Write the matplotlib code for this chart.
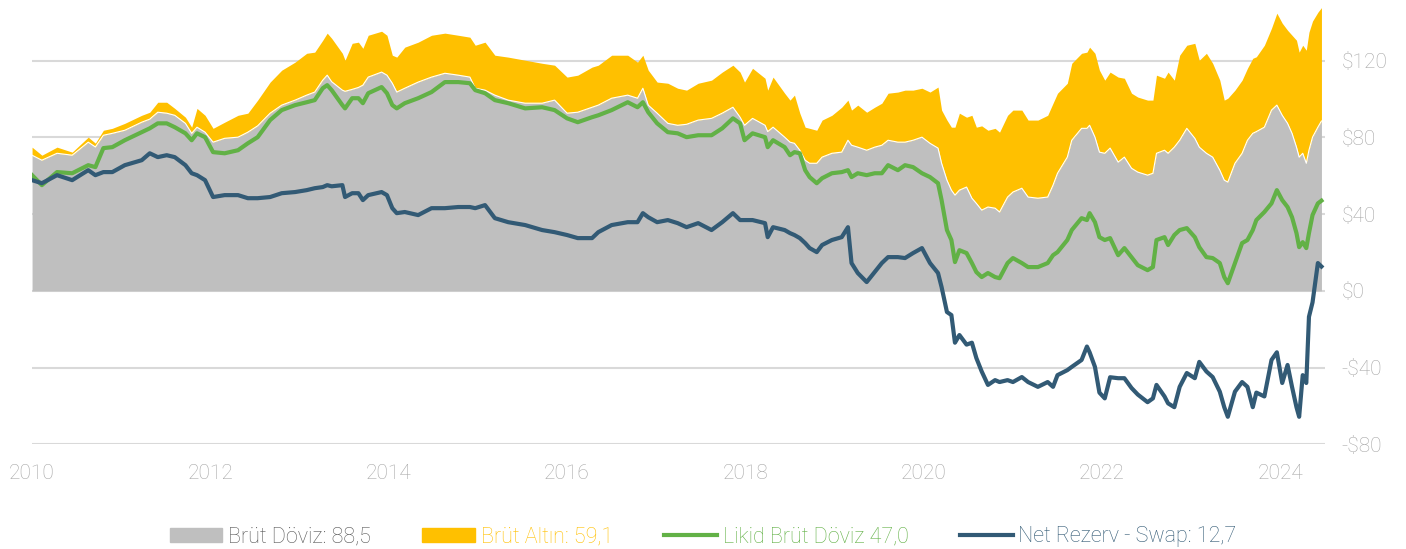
import matplotlib
matplotlib.use("Agg")
import matplotlib.pyplot as plt
from matplotlib.patches import Patch
from matplotlib.lines import Line2D

plt.rcParams['font.family'] = ['Roboto', 'DejaVu Sans']

# decimal years
tarih = [2010.00, 2010.11, 2010.28, 2010.45, 2010.63, 2010.71, 2010.80, 2010.90, 2011.04, 2011.23,
         2011.32, 2011.41, 2011.51, 2011.60, 2011.72, 2011.79, 2011.85, 2011.94, 2012.03, 2012.16,
         2012.31, 2012.42, 2012.53, 2012.67, 2012.80, 2012.95, 2013.08, 2013.17, 2013.26, 2013.31,
         2013.36, 2013.48, 2013.51, 2013.59, 2013.66, 2013.71, 2013.77, 2013.92, 2013.98, 2014.04,
         2014.09, 2014.18, 2014.33, 2014.48, 2014.63, 2014.78, 2014.91, 2014.97, 2015.08, 2015.19,
         2015.34, 2015.53, 2015.72, 2015.86, 2016.00, 2016.12, 2016.28, 2016.35, 2016.50, 2016.68,
         2016.79, 2016.85, 2016.91, 2017.01, 2017.13, 2017.24, 2017.34, 2017.47, 2017.62, 2017.74,
         2017.86, 2017.94, 2017.99, 2018.08, 2018.22, 2018.25, 2018.31, 2018.44, 2018.50, 2018.55,
         2018.61, 2018.67, 2018.72, 2018.80, 2018.86, 2018.97, 2019.08, 2019.15, 2019.19, 2019.26,
         2019.36, 2019.45, 2019.53, 2019.60, 2019.71, 2019.79, 2019.88, 2019.98, 2020.07, 2020.16,
         2020.20, 2020.26, 2020.31, 2020.35, 2020.40, 2020.48, 2020.54, 2020.59, 2020.65, 2020.72,
         2020.80, 2020.85, 2020.94, 2021.00, 2021.10, 2021.17, 2021.28, 2021.39, 2021.45, 2021.50,
         2021.61, 2021.66, 2021.77, 2021.83, 2021.86, 2021.92, 2021.97, 2022.03, 2022.09, 2022.18,
         2022.25, 2022.33, 2022.40, 2022.51, 2022.57, 2022.61, 2022.70, 2022.74, 2022.81, 2022.87,
         2022.95, 2023.04, 2023.09, 2023.17, 2023.24, 2023.32, 2023.37, 2023.41, 2023.49, 2023.57,
         2023.63, 2023.69, 2023.73, 2023.82, 2023.90, 2023.96, 2024.02, 2024.08, 2024.13, 2024.18,
         2024.21, 2024.25, 2024.29, 2024.32, 2024.36, 2024.42, 2024.46]

brut_doviz = [70.7, 68.1, 71.7, 70.7, 77.5, 75.0, 81.1, 82.1, 83.7, 87.9,
              89.5, 93.1, 92.6, 91.5, 87.3, 82.1, 85.3, 82.7, 77.5, 79.5,
              80.1, 82.7, 86.0, 92.6, 96.8, 99.4, 102.0, 103.6, 109.8, 112.4,
              109.0, 104.6, 104.0, 105.0, 106.0, 107.2, 111.4, 114.0, 112.4, 108.2,
              103.6, 105.6, 108.8, 111.4, 113.4, 112.4, 111.4, 105.6, 104.6, 102.0,
              99.4, 97.8, 97.8, 99.4, 92.6, 93.1, 95.7, 96.8, 100.4, 102.0,
              100.4, 105.6, 96.8, 92.6, 87.3, 86.3, 86.8, 89.0, 89.9, 92.6,
              95.7, 90.5, 86.3, 89.9, 86.3, 83.0, 85.3, 80.1, 77.5, 76.9,
              73.3, 68.1, 66.5, 66.5, 69.7, 71.7, 72.3, 78.5, 75.9, 74.9,
              73.3, 74.9, 75.9, 78.5, 77.5, 77.5, 78.5, 80.1, 76.9, 74.4,
              66.5, 57.7, 52.5, 49.9, 52.5, 54.1, 48.3, 45.6, 42.1, 43.7,
              43.1, 41.1, 48.9, 51.5, 53.5, 48.9, 48.3, 48.9, 55.1, 61.3,
              69.7, 78.5, 84.7, 84.7, 86.3, 80.1, 72.3, 71.7, 74.4, 67.1,
              69.7, 63.9, 61.9, 60.3, 61.3, 71.7, 73.3, 71.7, 74.9, 78.5,
              84.7, 79.5, 74.9, 71.7, 69.7, 62.9, 57.7, 56.7, 66.5, 71.7,
              78.5, 82.1, 83.0, 85.3, 94.2, 96.8, 91.5, 87.3, 82.1, 74.9,
              69.7, 71.7, 66.5, 73.3, 80.1, 85.3, 88.5]

brut_altin = [4.2, 2.6, 3.2, 1.6, 2.6, 2.0, 2.6, 2.6, 3.6, 3.6,
              3.6, 5.2, 5.7, 3.6, 3.2, 3.2, 9.8, 8.8, 7.2, 8.4,
              11.4, 9.9, 13.4, 16.2, 18.2, 19.8, 21.8, 20.8, 20.8, 21.9,
              22.6, 19.2, 16.2, 24.0, 23.6, 19.2, 21.8, 21.3, 20.8, 14.6,
              18.2, 21.4, 20.8, 21.8, 20.9, 20.8, 20.8, 22.4, 25.0, 20.8,
              22.4, 22.4, 20.8, 18.2, 18.8, 19.3, 20.9, 20.8, 22.4, 20.8,
              18.8, 17.2, 18.2, 16.2, 20.9, 19.3, 17.8, 19.2, 19.9, 21.4,
              21.9, 23.5, 22.5, 26.1, 24.5, 21.6, 26.1, 22.9, 21.9, 25.1,
              19.3, 17.2, 18.2, 17.2, 19.3, 19.8, 23.4, 20.9, 18.3, 21.9,
              19.8, 20.8, 21.9, 24.5, 26.1, 27.1, 26.1, 25.5, 26.7, 31.8,
              27.7, 31.3, 32.8, 35.4, 40.1, 36.4, 43.2, 39.7, 43.9, 40.0,
              41.6, 41.6, 42.6, 42.7, 40.7, 40.1, 40.7, 42.6, 42.7, 41.7,
              38.5, 40.1, 39.1, 39.7, 40.7, 43.7, 42.7, 38.1, 39.6, 44.3,
              41.1, 39.1, 39.1, 39.1, 38.1, 40.7, 37.5, 42.3, 34.9, 44.3,
              43.3, 49.5, 45.3, 52.1, 48.9, 46.9, 41.7, 43.7, 38.1, 38.1,
              37.5, 39.1, 39.0, 42.7, 42.7, 47.9, 48.0, 48.5, 51.1, 55.7,
              54.7, 56.3, 58.9, 61.5, 60.5, 59.9, 59.1]

likid_doviz = [60.3, 55.1, 61.9, 61.3, 65.5, 64.5, 74.4, 74.9, 78.5, 82.7,
               84.7, 87.3, 87.3, 85.3, 82.1, 78.5, 82.1, 80.1, 72.3, 71.7,
               73.3, 76.9, 80.1, 89.0, 94.2, 96.8, 98.3, 99.4, 105.6, 107.2,
               104.6, 96.8, 95.1, 100.4, 100.4, 97.8, 103.0, 106.2, 103.0, 96.8,
               95.1, 97.8, 100.4, 103.6, 108.8, 108.8, 108.2, 104.6, 103.0, 99.4,
               97.8, 95.1, 95.7, 94.2, 89.9, 87.9, 90.5, 91.5, 94.2, 98.3,
               95.7, 98.3, 93.1, 87.3, 82.7, 82.1, 80.1, 81.1, 81.1, 84.7,
               89.9, 87.3, 78.5, 82.1, 80.1, 74.9, 78.5, 74.9, 70.7, 72.3,
               71.7, 62.9, 59.3, 56.1, 58.7, 61.3, 61.9, 62.9, 59.3, 61.3,
               60.3, 61.3, 61.3, 65.5, 62.9, 65.5, 64.5, 61.3, 59.3, 56.1,
               47.3, 31.7, 26.5, 15.0, 21.2, 19.7, 14.5, 9.8, 7.2, 9.3,
               7.2, 6.6, 14.5, 17.1, 14.5, 12.4, 12.4, 14.5, 18.6, 20.2,
               26.5, 31.7, 37.9, 36.9, 40.5, 35.8, 28.0, 26.5, 27.5, 18.6,
               22.3, 17.6, 13.4, 10.8, 12.4, 26.5, 28.0, 23.9, 29.1, 31.7,
               32.7, 28.0, 22.8, 17.6, 17.1, 14.5, 7.2, 4.0, 14.5, 24.9,
               26.5, 31.7, 36.9, 41.1, 45.6, 52.5, 47.3, 43.7, 38.4, 30.1,
               22.8, 25.4, 22.3, 30.1, 39.5, 45.6, 47.0]

net_rezerv_swap = [57.7, 56.1, 60.3, 57.7, 62.9, 60.3, 61.9, 61.9, 65.5, 68.1,
                   71.7, 69.7, 70.7, 69.7, 65.5, 61.3, 60.3, 57.7, 48.9, 49.9,
                   49.9, 48.3, 48.3, 48.9, 50.9, 51.5, 52.5, 53.5, 54.1, 55.1,
                   54.5, 55.1, 48.9, 50.9, 50.9, 47.3, 49.9, 51.5, 49.9, 43.1,
                   40.5, 41.1, 39.5, 43.1, 43.1, 43.7, 43.7, 43.1, 44.7, 37.9,
                   35.8, 34.3, 31.7, 30.6, 29.1, 27.5, 27.5, 30.6, 34.3, 35.8,
                   35.8, 40.5, 38.4, 35.8, 36.9, 35.3, 33.2, 35.3, 31.7, 35.8,
                   40.5, 36.9, 36.9, 36.9, 35.3, 28.0, 33.2, 31.7, 30.1, 29.1,
                   27.5, 24.9, 22.3, 20.2, 23.9, 26.5, 28.0, 33.2, 14.5, 9.3,
                   4.6, 9.8, 14.5, 17.6, 17.6, 17.1, 19.7, 22.3, 14.5, 9.3,
                   2.0, -11.0, -12.6, -27.0, -23.0, -28.0, -27.0, -35.0, -42.0, -49.0,
                   -46.5, -47.5, -46.5, -47.5, -44.9, -47.5, -50.0, -47.5, -50.0, -43.9,
                   -41.3, -39.6, -36.0, -29.0, -32.0, -39.6, -53.0, -56.0, -45.0, -45.5,
                   -45.5, -50.6, -54.0, -58.0, -56.0, -49.0, -55.0, -58.6, -60.6, -50.0,
                   -42.8, -45.5, -37.0, -42.0, -44.9, -52.5, -60.6, -65.6, -52.5, -47.5,
                   -50.0, -60.6, -53.0, -55.0, -36.0, -32.0, -48.0, -38.6, -50.0, -60.6,
                   -65.6, -43.9, -48.0, -13.5, -6.0, 14.5, 12.7]

yil_etiket = [2010, 2012, 2014, 2016, 2018, 2020, 2022, 2024]
y_degerler = [-80, -40, 0, 40, 80, 120]
y_etiket = ['-\\$80', '-\\$40', '\\$0', '\\$40', '\\$80', '\\$120']

gri = '#BFBFBF'
altin = '#FFC000'
yesil = '#62B146'
lacivert = '#325A75'
yazi = '#A6A6A6'

fig = plt.figure(figsize=(14.06, 5.49), dpi=100)
ax = fig.add_axes([0.0228, 0.1905, 0.9196, 0.8040])

toplam = [d + a for d, a in zip(brut_doviz, brut_altin)]
ax.fill_between(tarih, 0, brut_doviz, color=gri, lw=0, zorder=2)
ax.fill_between(tarih, brut_doviz, toplam, color=altin, lw=0, zorder=2)
ax.plot(tarih, brut_doviz, color='white', lw=0.8, zorder=3)
ax.plot(tarih, likid_doviz, color=yesil, lw=3, zorder=4, solid_joinstyle='round')
ax.plot(tarih, net_rezerv_swap, color=lacivert, lw=3, zorder=5, solid_joinstyle='round')

ax.set_xlim(2010, 2024.5)
ax.set_ylim(-80, 150)
ax.set_xticks(yil_etiket)
ax.set_xticklabels([str(y) for y in yil_etiket])
ax.set_yticks(y_degerler)
ax.set_yticklabels(y_etiket)
ax.yaxis.tick_right()
ax.tick_params(axis='both', length=0, colors=yazi, labelsize=15)
ax.tick_params(axis='x', pad=14)
ax.tick_params(axis='y', pad=12)
for lab in ax.get_xticklabels() + ax.get_yticklabels():
    lab.set_fontweight('light')
ax.grid(axis='y', color='#D9D9D9', lw=1.5, zorder=0)
ax.set_axisbelow(True)
for s in ax.spines.values():
    s.set_visible(False)

handles = [Patch(color=gri), Patch(color=altin),
           Line2D([0], [0], color=yesil, lw=3), Line2D([0], [0], color=lacivert, lw=3)]
labels = ['Brüt Döviz: 88,5', 'Brüt Altın: 59,1', 'Likid Brüt Döviz 47,0', 'Net Rezerv - Swap: 12,7']
leg = fig.legend(handles, labels, loc='center', bbox_to_anchor=(0.5, 0.022), ncol=4,
                 frameon=False, fontsize=15.5, handlelength=2.45, handleheight=0.65,
                 handletextpad=0.25, columnspacing=2.4,
                 labelcolor=['#595959', altin, yesil, lacivert])
for t in leg.get_texts():
    t.set_fontweight('light')

fig.savefig('out.png', dpi=100)
